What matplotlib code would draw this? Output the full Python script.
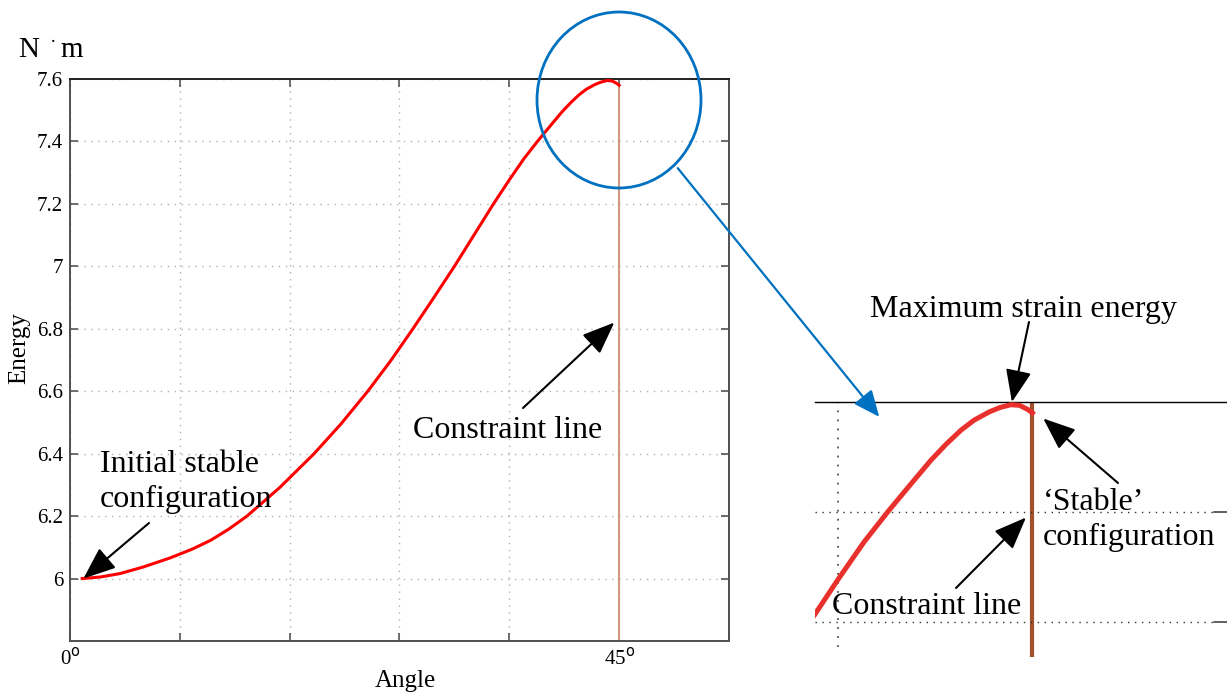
import matplotlib
matplotlib.use("Agg")
import matplotlib.pyplot as plt
from matplotlib.patches import Ellipse, FancyArrowPatch

plt.rcParams['font.family'] = ['Liberation Serif', 'DejaVu Serif']

# energy curve (angle in degrees, energy in N*m)
angle = [1.0, 2.5, 4.1, 6.0, 8.2, 10.0, 11.5, 13.0, 14.5, 17.2, 20.0, 22.2,
         24.4, 26.25, 28.1, 29.8, 31.5, 33.1, 34.7, 36.0, 37.2, 38.3,
         39.4, 40.3, 41.0, 41.7, 42.3, 43.0, 43.5, 44.0, 44.4, 44.8, 45.0]
energy = [6.000, 6.005, 6.016, 6.037, 6.066, 6.094, 6.122, 6.158, 6.200,
          6.292, 6.400, 6.495, 6.600, 6.696, 6.800, 6.899, 7.000, 7.100,
          7.200, 7.277, 7.345, 7.400, 7.452, 7.494, 7.523, 7.549, 7.567,
          7.582, 7.590, 7.595, 7.594, 7.586, 7.580]
constraint_angle = 45.0
yticks = [6.0, 6.2, 6.4, 6.6, 6.8, 7.0, 7.2, 7.4, 7.6]
ytick_labels = ["6", "6.2", "6.4", "6.6", "6.8", "7", "7.2", "7.4", "7.6"]
xticks = [0, 9, 18, 27, 36, 45, 54]

W, H = 1227, 693
fig = plt.figure(figsize=(W / 100, H / 100), dpi=100)

def px(x, y):
    # pixel position from the top-left corner -> figure pixels
    return (x, H - y)

arrow = dict(arrowstyle="-|>,head_length=1.0,head_width=0.4", color="black",
             lw=1.5, shrinkA=0, shrinkB=0, mutation_scale=20)

# main plot
ax = fig.add_axes([70/W, 1-641/H, 659/W, 562/H])
ax.plot(angle, energy, color="#ff0000", lw=2.2, zorder=3, solid_joinstyle="round")
ax.plot([constraint_angle, constraint_angle], [5.8, 7.58], color="#d09a80", lw=1.5, zorder=2)
ax.set_xlim(0, 54)
ax.set_ylim(5.8, 7.6)
ax.set_xticks(xticks)
ax.set_xticklabels([])
ax.set_yticks(yticks)
ax.set_yticklabels(ytick_labels, fontsize=15)
ax.tick_params(direction="in", length=6, width=1.2, color="#555555",
               top=True, right=True, pad=5)
ax.grid(True, linestyle=(0, (1, 4)), color="#b0b0b0", lw=1.0)
for s in ax.spines.values():
    s.set_color("#505050")
    s.set_linewidth(1.4)
ax.spines["top"].set_color("#222222")
for xv, lab in [(0, "0$^{\\rm o}$"), (45, "45$^{\\rm o}$")]:
    ax.annotate(lab, xy=(xv, 0), xycoords=("data", "axes fraction"),
                xytext=(0, -17), textcoords="offset pixels",
                ha="center", va="center", fontsize=15)
ax.set_xlabel("Angle", fontsize=18)
ax.xaxis.set_label_coords((405-70)/659, (641-681)/562)
ax.xaxis.label.set_va("center")
ax.set_ylabel("Energy", fontsize=18)
ax.yaxis.set_label_coords((19-70)/659, (641-348)/562)
ax.yaxis.label.set_va("center")

# unit
fig.text(18/W, 1-50/H, "N", fontsize=21, va="center")
fig.text(50/W, 1-42/H, "·", fontsize=14, va="center")
fig.text(60/W, 1-50/H, "m", fontsize=21, va="center")

# annotations on main plot
fig.text(100/W, 1-482/H, "Initial stable\nconfiguration", fontsize=23,
         ha="left", va="center", linespacing=1.3)
ax.annotate("", xy=(1.1, 6.0), xytext=px(149, 523), textcoords="figure pixels",
            arrowprops=arrow)
fig.text(413/W, 1-430/H, "Constraint line", fontsize=23, ha="left", va="center")
ax.annotate("", xy=(44.6, 6.82), xytext=px(523, 408), textcoords="figure pixels",
            arrowprops=arrow)

# magnifier circle and blue arrow
circ = Ellipse((619, H-100), 164, 176, transform=None, fill=False,
               edgecolor="#0070c0", lw=2.0)
fig.patches.append(circ)
fig.patches.append(FancyArrowPatch(px(676, 166), px(881, 419),
                                   transform=None, color="#0070c0", lw=1.6,
                                   arrowstyle="-|>,head_length=16,head_width=7"))

# zoomed inset
ins = fig.add_axes([815/W, 1-657/H, 412/W, 255/H])
ins.plot(angle, energy, color="#e8302c", lw=3.6, zorder=3, solid_joinstyle="round")
ins.plot([constraint_angle, constraint_angle], [7.0, 7.6], color="#a0522d", lw=3.0, zorder=2)
ins.set_xlim(34.94, 54.0)
ins.set_ylim(7.6 - 255/550, 7.6)
for k in ["left", "right", "bottom"]:
    ins.spines[k].set_visible(False)
ins.spines["top"].set_color("black")
ins.spines["top"].set_linewidth(1.0)
ins.set_xticks([])
ins.set_yticks([])
ins.axhline(7.4, xmax=0.97, color="#333333", lw=1.0, linestyle=(0, (1, 4)))
ins.axhline(7.2, xmax=0.97, color="#333333", lw=1.0, linestyle=(0, (1, 4)))
ins.axvline(36, ymin=0.04, color="#555555", lw=1.3, linestyle=(0, (1, 4)))
for yv in [7.4, 7.2]:
    ins.plot([53.4, 54.0], [yv, yv], color="#444444", lw=1.2, clip_on=False)

fig.text(1023/W, 1-310/H, "Maximum strain energy", fontsize=23, ha="center", va="center")
ins.annotate("", xy=(44.05, 7.6), xytext=px(1029, 322), textcoords="figure pixels",
             arrowprops=arrow, annotation_clip=False)
fig.text(1043/W, 1-520/H, "‘Stable’\nconfiguration", fontsize=23,
         ha="left", va="center", linespacing=1.3)
ins.annotate("", xy=(45.5, 7.57), xytext=px(1118, 483), textcoords="figure pixels",
             arrowprops=arrow, annotation_clip=False)
fig.text(832/W, 1-607/H, "Constraint line", fontsize=23, ha="left", va="center")
ins.annotate("", xy=(44.7, 7.39), xytext=px(956, 588), textcoords="figure pixels",
             arrowprops=arrow, annotation_clip=False)

fig.savefig("out.png", dpi=100)
